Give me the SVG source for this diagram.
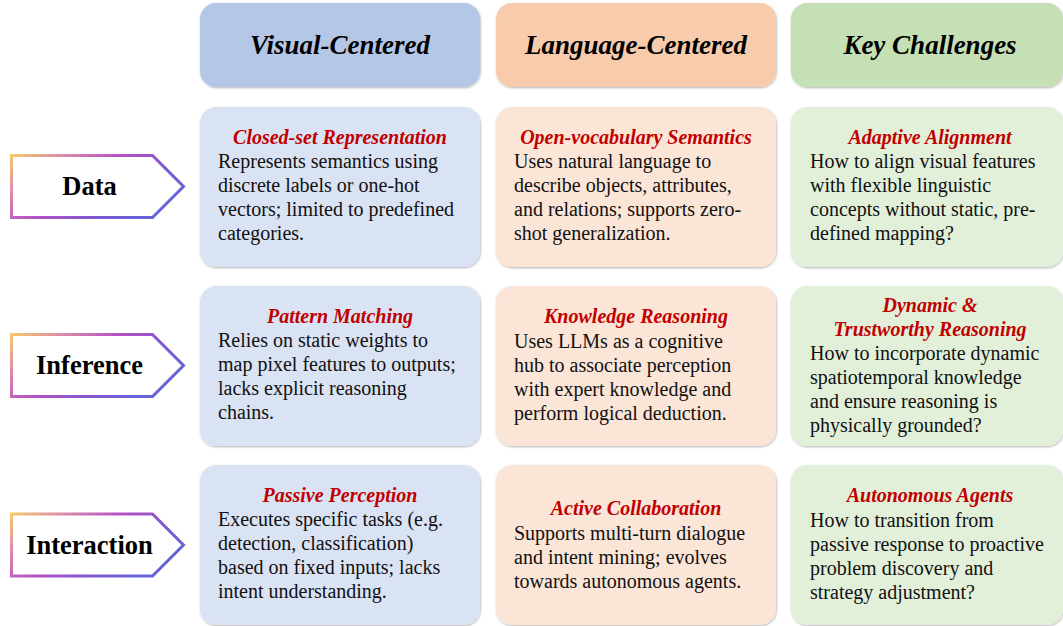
<svg xmlns="http://www.w3.org/2000/svg" width="1063" height="626" viewBox="0 0 1063 626">
<defs>
<linearGradient id="arrowGrad" x1="0" y1="0" x2="1" y2="0.5">
<stop offset="0" stop-color="#f6c86a"/>
<stop offset="0.2" stop-color="#df95a4"/>
<stop offset="0.5" stop-color="#b651c4"/>
<stop offset="0.8" stop-color="#7b58d2"/>
<stop offset="1" stop-color="#6663d8"/>
</linearGradient>
<filter id="sh" x="-5%" y="-5%" width="110%" height="115%">
<feDropShadow dx="0.6" dy="1" stdDeviation="0.8" flood-color="#000" flood-opacity="0.3"/>
</filter>
</defs>
<style>
.hdr{font-family:"Liberation Serif","Times New Roman",serif;font-weight:bold;font-style:italic;font-size:27px;fill:#000;text-anchor:middle}
.lbl{font-family:"Liberation Serif","Times New Roman",serif;font-weight:bold;font-size:26.5px;fill:#000;text-anchor:middle}
.ttl{font-family:"Liberation Serif","Times New Roman",serif;font-weight:bold;font-style:italic;font-size:20px;fill:#c00000;text-anchor:middle}
.bdy{font-family:"Liberation Serif","Times New Roman",serif;font-size:20px;fill:#111}
.box{filter:url(#sh)}
.arrow{fill:#fff;stroke:url(#arrowGrad);stroke-width:3}
.h1{fill:#b4c7e7}.h2{fill:#f8cbad}.h3{fill:#c5e0b4}
.c1{fill:#dae3f3}.c2{fill:#fbe5d6}.c3{fill:#e2f0d9}
</style>
<rect width="1063" height="626" fill="#fff"/>

<g id="header-visual">
<rect class="box h1" x="200" y="3" width="280" height="84" rx="16"/>
<text class="hdr" x="340" y="54">Visual-Centered</text>
</g>
<g id="header-language">
<rect class="box h2" x="496" y="3" width="280" height="84" rx="16"/>
<text class="hdr" x="636" y="54">Language-Centered</text>
</g>
<g id="header-challenges">
<rect class="box h3" x="791" y="3" width="272" height="84" rx="16"/>
<text class="hdr" x="930" y="54">Key Challenges</text>
</g>

<g id="row-data">
<path class="arrow" d="M11.5,155.5 H152.5 L183.5,186.5 L152.5,217.5 H11.5 Z"/>
<text class="lbl" x="89.5" y="195">Data</text>
</g>
<g id="row-inference">
<path class="arrow" d="M11.5,334.5 H152.5 L183.5,365.5 L152.5,396.5 H11.5 Z"/>
<text class="lbl" x="89.5" y="374">Inference</text>
</g>
<g id="row-interaction">
<path class="arrow" d="M11.5,514 H152.5 L183.5,545 L152.5,576 H11.5 Z"/>
<text class="lbl" x="89.5" y="554">Interaction</text>
</g>

<g id="card-closed-set">
<rect class="box c1" x="200" y="107" width="280" height="160" rx="16"/>
<text class="ttl" x="340" y="144">Closed-set Representation</text>
<text class="bdy" x="218" y="168">Represents semantics using</text>
<text class="bdy" x="218" y="192">discrete labels or one-hot</text>
<text class="bdy" x="218" y="216">vectors; limited to predefined</text>
<text class="bdy" x="218" y="240">categories.</text>
</g>
<g id="card-open-vocab">
<rect class="box c2" x="496" y="107" width="280" height="160" rx="16"/>
<text class="ttl" x="636" y="144">Open-vocabulary Semantics</text>
<text class="bdy" x="514" y="168">Uses natural language to</text>
<text class="bdy" x="514" y="192">describe objects, attributes,</text>
<text class="bdy" x="514" y="216">and relations; supports zero-</text>
<text class="bdy" x="514" y="240">shot generalization.</text>
</g>
<g id="card-adaptive">
<rect class="box c3" x="791" y="107" width="272" height="160" rx="16"/>
<text class="ttl" x="930" y="144">Adaptive Alignment</text>
<text class="bdy" x="810" y="168">How to align visual features</text>
<text class="bdy" x="810" y="192">with flexible linguistic</text>
<text class="bdy" x="810" y="216">concepts without static, pre-</text>
<text class="bdy" x="810" y="240">defined mapping?</text>
</g>

<g id="card-pattern">
<rect class="box c1" x="200" y="286" width="280" height="160" rx="16"/>
<text class="ttl" x="340" y="323">Pattern Matching</text>
<text class="bdy" x="218" y="347">Relies on static weights to</text>
<text class="bdy" x="218" y="371">map pixel features to outputs;</text>
<text class="bdy" x="218" y="395">lacks explicit reasoning</text>
<text class="bdy" x="218" y="419">chains.</text>
</g>
<g id="card-knowledge">
<rect class="box c2" x="496" y="286" width="280" height="160" rx="16"/>
<text class="ttl" x="636" y="323">Knowledge Reasoning</text>
<text class="bdy" x="514" y="348">Uses LLMs as a cognitive</text>
<text class="bdy" x="514" y="372">hub to associate perception</text>
<text class="bdy" x="514" y="396">with expert knowledge and</text>
<text class="bdy" x="514" y="420">perform logical deduction.</text>
</g>
<g id="card-dynamic">
<rect class="box c3" x="791" y="286" width="272" height="160" rx="16"/>
<text class="ttl" x="930" y="312">Dynamic &amp;</text>
<text class="ttl" x="930" y="336">Trustworthy Reasoning</text>
<text class="bdy" x="810" y="360">How to incorporate dynamic</text>
<text class="bdy" x="810" y="384">spatiotemporal knowledge</text>
<text class="bdy" x="810" y="408">and ensure reasoning is</text>
<text class="bdy" x="810" y="432">physically grounded?</text>
</g>

<g id="card-passive">
<rect class="box c1" x="200" y="465" width="280" height="160" rx="16"/>
<text class="ttl" x="340" y="502">Passive Perception</text>
<text class="bdy" x="218" y="526">Executes specific tasks (e.g.</text>
<text class="bdy" x="218" y="550">detection, classification)</text>
<text class="bdy" x="218" y="574">based on fixed inputs; lacks</text>
<text class="bdy" x="218" y="598">intent understanding.</text>
</g>
<g id="card-active">
<rect class="box c2" x="496" y="465" width="280" height="160" rx="16"/>
<text class="ttl" x="636" y="515">Active Collaboration</text>
<text class="bdy" x="514" y="540">Supports multi-turn dialogue</text>
<text class="bdy" x="514" y="564">and intent mining; evolves</text>
<text class="bdy" x="514" y="588">towards autonomous agents.</text>
</g>
<g id="card-autonomous">
<rect class="box c3" x="791" y="465" width="272" height="160" rx="16"/>
<text class="ttl" x="930" y="502">Autonomous Agents</text>
<text class="bdy" x="810" y="527">How to transition from</text>
<text class="bdy" x="810" y="551">passive response to proactive</text>
<text class="bdy" x="810" y="575">problem discovery and</text>
<text class="bdy" x="810" y="599">strategy adjustment?</text>
</g>

<g id="connectors"></g>
</svg>
